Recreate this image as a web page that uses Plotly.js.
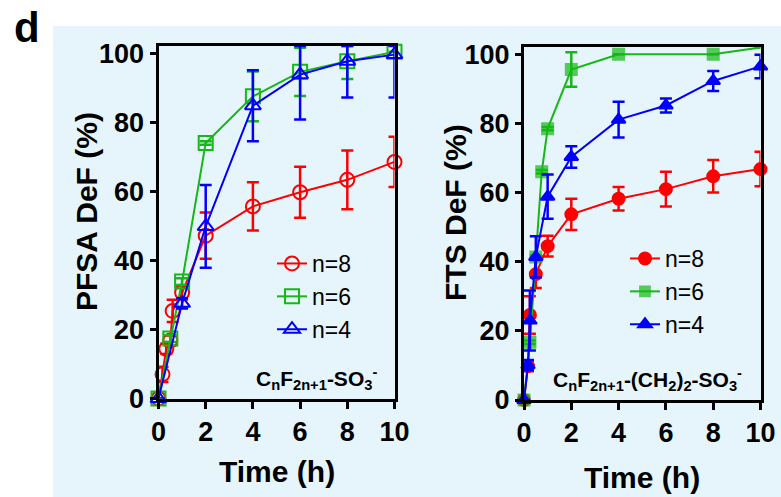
<!DOCTYPE html>
<html>
<head>
<meta charset="utf-8">
<script src="https://cdn.plot.ly/plotly-3.0.1.min.js"></script>
<style>html,body{margin:0;padding:0;background:#fff;}#chart{width:781px;height:497px;}</style>
</head>
<body>
<div id="chart"></div>
<script>
// ---- Data ----
// Panel 1: PFSA  C_nF_{2n+1}-SO3-
const pfsaTime8 = [0, 0.17, 0.33, 0.5, 0.6, 1, 2, 4, 6, 8, 10];
const pfsaN8    = [0, 7.0, 14.4, 16.8, 25.4, 30.7, 47.2, 55.7, 59.8, 63.4, 68.6];
const pfsaN8Err = [0, 2.2, 1.5, 1.5, 3.2, 2.0, 6.7, 7.0, 7.4, 8.5, 7.3];

const pfsaTime6 = [0, 0.5, 1, 2, 4, 6, 8, 10];
const pfsaN6    = [0, 17.4, 33.9, 74.1, 87.6, 94.7, 97.8, 100.5];
const pfsaN6Err = [0, 1.0, 1.0, 0.5, 7.2, 7.0, 5.2, 0];

const pfsaTime4 = [0, 1, 2, 4, 6, 8, 10];
const pfsaN4    = [0, 27.6, 49.9, 84.9, 93.9, 97.8, 99.7];
const pfsaN4Err = [0, 1.5, 12.0, 10.3, 13.0, 10.5, 12.4];

// Panel 2: FTS  C_nF_{2n+1}-(CH2)2-SO3-
const ftsTime8 = [0, 0.17, 0.25, 0.5, 1, 2, 4, 6, 8, 10];
const ftsN8    = [0, 9.8, 24.6, 36.4, 44.5, 53.7, 58.2, 61.0, 64.7, 66.8];
const ftsN8Err = [0, 1.5, 5.4, 4.0, 3.0, 4.5, 3.4, 5.0, 4.7, 5.0];

const ftsTime6 = [0, 0.25, 0.5, 0.75, 1, 2, 4, 8, 10];
const ftsN6    = [0, 16.7, 41.4, 66.0, 78.5, 95.6, 100, 100, 102];
const ftsN6Err = [0, 0.5, 0.5, 0.5, 0.5, 5.0, 0, 0, 0];

const ftsTime4 = [0, 0.17, 0.25, 0.5, 1, 2, 4, 6, 8, 10];
const ftsN4    = [0, 10.1, 23.0, 41.4, 58.8, 70.3, 81.1, 85.2, 92.3, 96.5];
const ftsN4Err = [0, 1.5, 8.7, 6.0, 6.4, 3.1, 5.2, 2.0, 2.9, 3.4];

const seriesNames = ['n=8', 'n=6', 'n=4'];
const xTicks = [0, 2, 4, 6, 8, 10];
const yTicks = [0, 20, 40, 60, 80, 100];

// ---- Styling ----
const W = 781, H = 497;
const px = v => v / W;
const py = v => 1 - v / H;
const YMAX = 102.2;
const RED = '#FF0000', GREEN = '#16B816', BLUE = '#0000FF';
const FONT = 'Liberation Sans, Arial, sans-serif';

function errs(y, e) {
  return {
    type: 'data', symmetric: false,
    array: e.map((v, i) => Math.min(v, YMAX - y[i])),
    arrayminus: e,
    thickness: 2.5, width: 6
  };
}

function trace(x, y, e, name, color, symbol, xa, ya, legend, size) {
  return {
    type: 'scatter', mode: 'lines+markers', x: x, y: y, name: name,
    xaxis: xa, yaxis: ya, legend: legend, cliponaxis: false,
    line: {color: color, width: 2},
    marker: {symbol: symbol, size: size || 13, color: color, line: {color: color, width: 2}},
    error_y: Object.assign(errs(y, e), {color: color})
  };
}

const traces = [
  trace(pfsaTime8, pfsaN8, pfsaN8Err, seriesNames[0], RED, 'circle-open', 'x', 'y', 'legend', 14),
  trace(pfsaTime6, pfsaN6, pfsaN6Err, seriesNames[1], GREEN, 'square-open', 'x', 'y', 'legend', 14),
  trace(pfsaTime4, pfsaN4, pfsaN4Err, seriesNames[2], BLUE, 'triangle-up-open', 'x', 'y', 'legend', 14),
  trace(ftsTime8, ftsN8, ftsN8Err, seriesNames[0], RED, 'circle', 'x2', 'y2', 'legend2', 12),
  trace(ftsTime6, ftsN6, ftsN6Err, seriesNames[1], GREEN, 'square', 'x2', 'y2', 'legend2', 11),
  trace(ftsTime4, ftsN4, ftsN4Err, seriesNames[2], BLUE, 'triangle-up', 'x2', 'y2', 'legend2', 12)
];
// last green FTS point lies above the frame: hide its marker (clipped in reference)
traces[4].marker.size = ftsTime6.map((t, i) => i === ftsTime6.length - 1 ? 0 : 11);

const tickFont = {family: FONT, size: 27, color: '#000', weight: 'bold'};
function xAxis(domain, anchor) {
  return {
    domain: domain, anchor: anchor, range: [0, 10], tickvals: xTicks,
    ticks: 'outside', ticklen: 7, tickwidth: 3, tickcolor: '#000',
    showline: true, linewidth: 3, linecolor: '#000', mirror: true,
    showgrid: false, zeroline: false, tickfont: tickFont, fixedrange: true
  };
}
function yAxis(domain, anchor) {
  return {
    domain: domain, anchor: anchor, range: [0, YMAX], tickvals: yTicks,
    ticks: 'outside', ticklen: 6, tickwidth: 3, tickcolor: '#000',
    showline: true, linewidth: 3, linecolor: '#000', mirror: true,
    showgrid: false, zeroline: false, tickfont: tickFont, fixedrange: true
  };
}

const titleFont = {family: FONT, size: 30, color: '#000', weight: 'bold'};
const formulaFont = {family: FONT, size: 21, color: '#000', weight: 'bold'};
const legendFont = {family: FONT, size: 23, color: '#000'};

function note(text, x, y, font, angle) {
  return {text: text, xref: 'paper', yref: 'paper', x: px(x), y: py(y),
          xanchor: 'center', yanchor: 'middle', textangle: angle || 0,
          showarrow: false, font: font};
}

const layout = {
  width: W, height: H,
  margin: {l: 0, r: 0, t: 0, b: 0},
  paper_bgcolor: '#FFFFFF', plot_bgcolor: 'rgba(0,0,0,0)',
  showlegend: true,
  xaxis: xAxis([px(158.5), px(394.5)], 'y'),
  yaxis: yAxis([py(398.5), py(46)], 'x'),
  xaxis2: xAxis([px(524), px(760.5)], 'y2'),
  yaxis2: yAxis([py(400), py(46.7)], 'x2'),
  legend: {x: px(272), y: py(242), xanchor: 'left', yanchor: 'top',
           bgcolor: 'rgba(0,0,0,0)', font: legendFont, itemwidth: 30, tracegroupgap: 0},
  legend2: {x: px(625), y: py(237), xanchor: 'left', yanchor: 'top',
            bgcolor: 'rgba(0,0,0,0)', font: legendFont, itemwidth: 30, tracegroupgap: 0},
  shapes: [{type: 'rect', xref: 'paper', yref: 'paper', x0: px(53), x1: 1, y0: 0, y1: py(26),
            fillcolor: '#E6F5FC', line: {width: 0}, layer: 'below'}],
  annotations: [
    note('d', 27, 27, {family: FONT, size: 42, color: '#000', weight: 'bold'}),
    note('PFSA DeF (%)', 86, 212, titleFont, -90),
    note('FTS DeF (%)', 455, 213, titleFont, -90),
    note('Time (h)', 277, 471, titleFont),
    note('Time (h)', 642, 477, titleFont),
    note('C<sub>n</sub>F<sub>2n+1</sub>-SO<sub>3</sub><sup>-</sup>', 316, 378, formulaFont),
    note('C<sub>n</sub>F<sub>2n+1</sub>-(CH<sub>2</sub>)<sub>2</sub>-SO<sub>3</sub><sup>-</sup>', 647, 379, formulaFont)
  ]
};

Plotly.newPlot('chart', traces, layout, {staticPlot: true, displayModeBar: false});
</script>
</body>
</html>
